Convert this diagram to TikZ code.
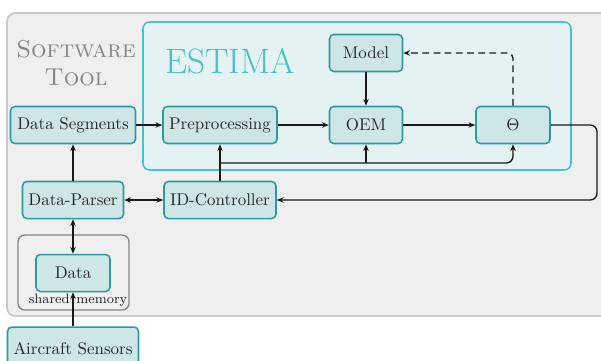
\documentclass[tikz,border=0pt]{standalone}
\usetikzlibrary{arrows.meta,calc}
\def\u{0.59pt}
\definecolor{toolfill}{HTML}{EFEFEF}
\definecolor{toolline}{HTML}{C9C9C9}
\definecolor{estfill}{HTML}{E5F2F4}
\definecolor{estline}{HTML}{45C3C8}
\definecolor{boxfill}{HTML}{CFE6E7}
\definecolor{boxline}{HTML}{2A9A9C}
\definecolor{memline}{HTML}{858585}
\definecolor{txt}{HTML}{262626}
\tikzset{
  block/.style={draw=boxline, fill=boxfill, line width=0.9pt, rounded corners=2.6pt,
    minimum height=37*\u, inner xsep=2pt, text=txt, font=\normalsize},
  conn/.style={line width=0.8pt, draw=black!90, -{Stealth[length=4pt,width=3.2pt]}},
  biconn/.style={line width=0.8pt, draw=black!90, {Stealth[length=4pt,width=3.2pt]}-{Stealth[length=4pt,width=3.2pt]}},
}
\begin{document}
\begin{tikzpicture}[x=\u, y=-\u]
\clip (0,0) rectangle (601,360);
\fill[white] (0,0) rectangle (601,360);

% outer tool frame
\draw[fill=toolfill, draw=toolline, line width=1.1pt, rounded corners=5pt] (7,13) rectangle (640,316);
\node[text=black!48, font=\Large, align=center, inner sep=0pt] (swt) at (76,63) {\textsc{Software}\\[-1pt]\textsc{Tool}};

% estimation block
\draw[fill=estfill, draw=estline, line width=0.9pt, rounded corners=4pt] (143,22) rectangle (571,170);
\node[text=estline, font=\fontsize{20.8}{24}\selectfont, inner sep=0pt] (est) at (230,61) {ESTIMA};

% shared memory frame
\draw[draw=memline, line width=0.8pt, rounded corners=4pt] (18,235) rectangle (129,310);

\node[block, minimum width=73*\u] (model) at (366,53) {Model};
\node[block, minimum width=125*\u] (ds) at (73,125) {Data Segments};
\node[block, minimum width=114*\u] (pre) at (220,125) {Preprocessing};
\node[block, minimum width=73*\u] (oem) at (366,125) {OEM};
\node[block, minimum width=74*\u] (theta) at (513,125) {$\Theta$};
\node[block, minimum width=101*\u] (dp) at (73,200) {Data-Parser};
\node[block, minimum width=112*\u] (idc) at (220,200) {ID-Controller};
\node[block, minimum width=74*\u] (data) at (73,273) {Data};
\node[block, minimum width=131*\u, minimum height=44*\u] (acs) at (73,349) {Aircraft Sensors};
\node[font=\footnotesize, text=txt, inner sep=0pt] (shm) at (78,300) {shared\hspace{4pt}memory};

\coordinate (rt) at (597,0);
\coordinate (br) at (220,163);

% data flow
\draw[conn] (ds) -- (pre);
\draw[conn] (pre) -- (oem);
\draw[conn] (oem) -- (theta);
\draw[conn] (model) -- (oem);
\draw[conn, dashed, dash pattern=on 4pt off 2.6pt, rounded corners=3pt] (theta.north) |- (model.east);
\draw[conn, rounded corners=4pt] (theta.east) -- (theta.east -| rt) -- (idc.east -| rt) -- (idc.east);
\draw[conn] (idc.north) -- (pre.south);
\draw[conn, rounded corners=4pt] (br) -| (theta.south);
\draw[conn] (oem.south |- br) -- (oem.south);
\draw[biconn] (dp) -- (idc);
\draw[conn] (dp) -- (ds);
\draw[biconn] (dp) -- (data);
\draw[conn] (acs) -- (data);
\end{tikzpicture}
\end{document}
